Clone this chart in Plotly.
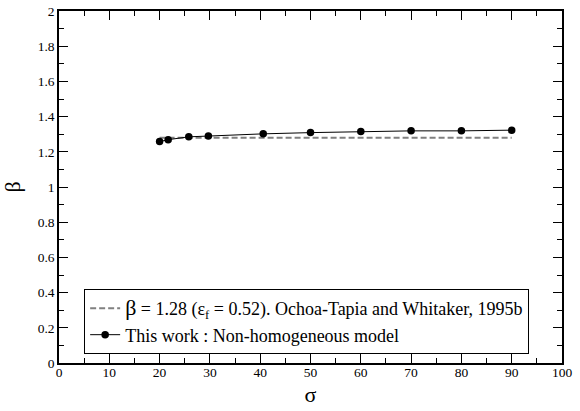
import plotly.graph_objects as go

# Dimensionless parameter sigma and computed beta values
sigma = [20, 21.7, 25.8, 29.7, 40.6, 50, 60, 70, 80, 90]
beta = [1.258, 1.269, 1.285, 1.290, 1.302, 1.309, 1.315, 1.319, 1.319, 1.323]

# Reference constant value (Ochoa-Tapia and Whitaker, 1995b)
ref_sigma = [20, 90]
ref_beta = [1.28, 1.28]

x_ticks = [0, 10, 20, 30, 40, 50, 60, 70, 80, 90, 100]
y_ticks = [0, 0.2, 0.4, 0.6, 0.8, 1, 1.2, 1.4, 1.6, 1.8, 2]

FONT = "Liberation Serif"

fig = go.Figure()

fig.add_trace(go.Scatter(
    x=ref_sigma, y=ref_beta, mode="lines",
    line=dict(color="#808080", width=2, dash="6px,3px"),
    name="<span style='font-size:22px'>β</span> = 1.28 (ε<sub>f</sub> = 0.52). Ochoa-Tapia and Whitaker, 1995b",
))

fig.add_trace(go.Scatter(
    x=sigma, y=beta, mode="lines+markers",
    line=dict(color="black", width=1),
    marker=dict(color="black", size=7.5),
    name="This work : Non-homogeneous model",
))

axis_common = dict(
    showgrid=False, zeroline=False, automargin=False,
    showline=True, linecolor="black", linewidth=1.5,
    mirror="allticks", ticks="inside", ticklen=9, tickwidth=1, tickcolor="black",
    tickfont=dict(family=FONT, size=13.5, color="black"),
)

fig.update_xaxes(
    range=[0, 100], tickvals=x_ticks, ticklabelstandoff=-4,
    minor=dict(dtick=5, ticks="inside", ticklen=5, tickcolor="black", tickwidth=1),
    title=dict(text="σ", font=dict(family=FONT, size=22, color="black"), standoff=8),
    **axis_common,
)
fig.update_yaxes(
    range=[0, 2], tickvals=y_ticks,
    minor=dict(dtick=0.1, ticks="inside", ticklen=5, tickcolor="black", tickwidth=1),
    title=dict(text="β", font=dict(family=FONT, size=22, color="black"), standoff=14),
    **axis_common,
)

fig.update_layout(
    width=580, height=411,
    margin=dict(l=59, r=18, t=11, b=48, autoexpand=False),
    paper_bgcolor="white", plot_bgcolor="white",
    font=dict(family=FONT, color="black"),
    showlegend=True,
    legend=dict(
        x=0.05, y=0.21, xanchor="left", yanchor="top",
        bgcolor="white", bordercolor="black", borderwidth=1,
        font=dict(family=FONT, size=18, color="black"),
        itemwidth=30, tracegroupgap=0,
    ),
)

fig.write_html("out.html")
